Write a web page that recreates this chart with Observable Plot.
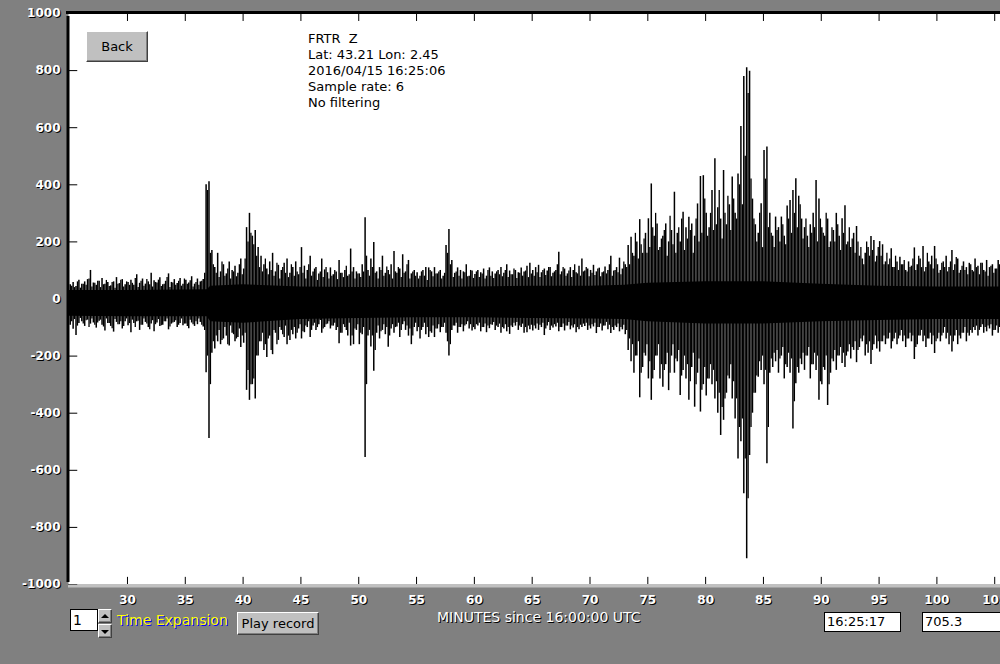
<!DOCTYPE html>
<html>
<head>
<meta charset="utf-8">
<script src="https://cdn.jsdelivr.net/npm/d3@7"></script>
<script src="https://cdn.jsdelivr.net/npm/@observablehq/plot@0.6"></script>
<style>
  html, body { margin: 0; padding: 0; background: #808080; }
  #wrap { position: relative; width: 1000px; height: 664px; overflow: hidden; font-family: "DejaVu Sans", sans-serif; }
  #wrap svg { display: block; }
  .abs { position: absolute; box-sizing: border-box; }
  .info { left: 308px; top: 31px; font-size: 13px; line-height: 16px; color: #000; white-space: pre; }
  .btn { background: #c0c0c0; border: 1px solid; border-color: #ffffff #404040 #404040 #ffffff; box-shadow: inset -1px -1px 0 #808080; color: #000; font-size: 13px; text-align: center; }
  .box { background: #fff; border: 1px solid #000; color: #000; font-size: 13px; padding-left: 2px; }
  .tri-up { width: 0; height: 0; border-left: 4px solid transparent; border-right: 4px solid transparent; border-bottom: 4px solid #000; position: absolute; left: 2px; top: 4px; }
  .tri-dn { width: 0; height: 0; border-left: 4px solid transparent; border-right: 4px solid transparent; border-top: 4px solid #000; position: absolute; left: 2px; top: 5px; }
</style>
</head>
<body>
<div id="wrap"></div>
<script>
// ---------- data ----------
const infoLines = ["FRTR  Z", "Lat: 43.21 Lon: 2.45", "2016/04/15 16:25:06", "Sample rate: 6", "No filtering"];
const xLabel = "MINUTES since 16:00:00 UTC";
const xTicks = [30, 35, 40, 45, 50, 55, 60, 65, 70, 75, 80, 85, 90, 95, 100, 105];
const yTicks = [1000, 800, 600, 400, 200, 0, -200, -400, -600, -800, -1000];
const xDomain = [24.9, 105.5];
const yDomain = [-1000, 1000];
const timeBox = "16:25:17";
const valueBox = "705.3";

// trace envelope A: max/min every 0.25 minute, starting at 25.05 min
const t0 = 25.05;
const dt = 0.25;
const traceHi = [
  50, 58, 44, 66, 52, 60, 68, 100, 56, 48,
  62, 72, 52, 58, 46, 60, 75, 54, 68, 50,
  58, 66, 48, 85, 55, 70, 52, 60, 90, 64,
  56, 74, 50, 62, 88, 58, 68, 54, 72, 52,
  66, 56, 78, 52, 70, 60, 68, 400, 411, 170,
  110, 160, 95, 120, 88, 130, 100, 115, 90, 140,
  105, 250, 300, 220, 240, 180, 150, 120, 105, 130,
  160, 95, 118, 100, 125, 140, 90, 110, 130, 85,
  180, 115, 100, 150, 95, 110, 88, 140, 102, 92,
  109, 85, 95, 135, 90, 100, 80, 175, 110, 95,
  88, 120, 285, 100, 140, 198, 95, 110, 150, 90,
  100, 120, 166, 90, 105, 155, 95, 135, 88, 100,
  92, 80, 100, 110, 109, 95, 110, 88, 100, 80,
  187, 243, 135, 90, 109, 100, 95, 120, 80, 98,
  86, 100, 92, 105, 80, 109, 95, 88, 100, 110,
  90, 120, 98, 85, 100, 92, 109, 95, 115, 125,
  100, 110, 118, 92, 105, 98, 110, 90, 100, 164,
  95, 105, 88, 110, 100, 92, 115, 140, 98, 105,
  100, 118, 95, 108, 92, 112, 100, 150, 98, 110,
  143, 105, 120, 187, 216, 150, 200, 278, 160, 230,
  281, 403, 220, 263, 180, 220, 263, 200, 240, 374,
  230, 200, 304, 250, 286, 263, 220, 333, 429, 432,
  300, 250, 380, 491, 320, 280, 450, 260, 330, 427,
  300, 438, 604, 779, 810, 798, 350, 260, 230, 334,
  520, 532, 300, 220, 287, 250, 287, 220, 326, 345,
  380, 421, 360, 280, 250, 220, 260, 300, 415, 350,
  250, 220, 280, 200, 240, 300, 220, 281, 327, 200,
  180, 230, 254, 150, 140, 160, 180, 219, 205, 150,
  201, 190, 130, 120, 176, 110, 130, 146, 120, 100,
  130, 115, 179, 120, 140, 184, 110, 130, 150, 184,
  120, 100, 130, 150, 110, 170, 120, 140, 100, 130,
  110, 125, 100, 140, 115, 125, 100, 135, 110, 120,
  105, 135
];
const traceLo = [
  -92, -106, -128, -86, -80, -96, -74, -88, -84, -102,
  -78, -92, -112, -86, -96, -116, -82, -90, -105, -80,
  -94, -118, -86, -80, -110, -92, -82, -100, -88, -115,
  -84, -96, -92, -80, -108, -88, -82, -100, -86, -94,
  -88, -104, -84, -96, -90, -82, -98, -258, -489, -190,
  -175, -150, -160, -140, -130, -165, -120, -150, -135, -170,
  -155, -320, -355, -300, -350, -200, -150, -180, -205, -130,
  -195, -120, -145, -110, -135, -160, -145, -125, -140, -105,
  -140, -118, -100, -135, -95, -110, -90, -120, -100, -88,
  -105, -95, -110, -157, -120, -100, -130, -165, -160, -110,
  -160, -125, -555, -130, -168, -253, -120, -140, -110, -125,
  -169, -105, -120, -98, -135, -90, -110, -130, -160, -100,
  -115, -140, -100, -125, -135, -120, -135, -105, -118, -100,
  -120, -200, -110, -95, -120, -100, -115, -90, -105, -112,
  -108, -95, -115, -100, -118, -104, -92, -110, -100, -120,
  -105, -115, -124, -100, -95, -110, -100, -120, -118, -108,
  -112, -105, -110, -100, -128, -95, -110, -102, -98, -115,
  -100, -112, -95, -108, -102, -118, -108, -100, -96, -110,
  -105, -98, -121, -100, -112, -95, -108, -121, -110, -100,
  -115, -108, -125, -180, -220, -260, -200, -346, -240, -200,
  -280, -355, -250, -200, -280, -309, -230, -321, -200, -260,
  -220, -338, -250, -280, -355, -240, -379, -260, -396, -300,
  -340, -280, -300, -350, -400, -478, -425, -330, -280, -350,
  -420, -560, -500, -682, -910, -548, -400, -330, -274, -250,
  -300, -577, -260, -240, -220, -260, -200, -280, -240, -260,
  -455, -297, -260, -230, -250, -200, -280, -230, -250, -355,
  -300, -250, -373, -260, -220, -250, -200, -226, -240, -186,
  -210, -180, -223, -170, -150, -200, -190, -229, -160, -175,
  -186, -150, -160, -140, -175, -140, -160, -130, -150, -170,
  -140, -150, -212, -160, -130, -150, -170, -140, -160, -191,
  -140, -150, -120, -140, -160, -186, -130, -160, -140, -120,
  -150, -130, -120, -110, -130, -100, -120, -115, -105, -130,
  -110, -120
];
// trace envelope B: max/min in the columns between those of A (starting at 25.175 min)
const t0b = 25.175;
const traceHiB = [
  45, 40, 60, 38, 52, 48, 70, 42, 55, 62,
  40, 50, 65, 44, 58, 38, 52, 66, 42, 60,
  48, 55, 72, 40, 62, 45, 68, 50, 42, 58,
  66, 44, 52, 75, 40, 56, 48, 62, 45, 70,
  52, 64, 42, 58, 48, 62, 90, 380, 160, 120,
  90, 75, 130, 80, 105, 70, 95, 78, 120, 85,
  140, 200, 230, 190, 150, 110, 95, 140, 85, 100,
  80, 125, 70, 110, 90, 75, 120, 80, 95, 110,
  90, 70, 120, 80, 105, 65, 95, 75, 110, 70,
  80, 100, 68, 90, 75, 115, 85, 95, 70, 88,
  75, 95, 150, 80, 110, 90, 70, 100, 80, 112,
  85, 70, 95, 110, 75, 90, 120, 70, 95, 80,
  70, 95, 80, 65, 100, 78, 88, 95, 70, 90,
  160, 120, 75, 95, 80, 70, 92, 78, 100, 72,
  95, 75, 88, 70, 100, 80, 72, 95, 85, 78,
  100, 75, 85, 105, 72, 90, 80, 98, 75, 88,
  80, 92, 75, 100, 82, 110, 78, 95, 120, 85,
  110, 80, 98, 75, 120, 88, 80, 95, 110, 78,
  90, 82, 105, 78, 95, 88, 120, 80, 100, 92,
  85, 130, 110, 120, 160, 230, 140, 190, 210, 160,
  180, 250, 300, 170, 210, 240, 150, 290, 190, 160,
  250, 280, 170, 210, 240, 160, 280, 200, 230, 350,
  220, 300, 240, 260, 380, 210, 300, 360, 240, 350,
  280, 400, 330, 500, 720, 420, 280, 200, 300, 180,
  420, 250, 230, 180, 240, 200, 260, 190, 280, 230,
  300, 250, 330, 210, 280, 180, 230, 250, 200, 280,
  230, 300, 180, 250, 200, 260, 170, 230, 190, 250,
  210, 160, 200, 180, 120, 200, 150, 170, 130, 180,
  150, 120, 160, 140, 110, 150, 100, 120, 135, 95,
  110, 140, 100, 150, 110, 95, 160, 120, 105, 140,
  90, 125, 110, 95, 130, 100, 145, 90, 115, 100,
  85, 120, 95, 110, 85, 125, 95, 80, 115, 90,
  105, 120
];
const traceLoB = [
  -80, -72, -95, -68, -88, -76, -100, -70, -92, -84,
  -74, -98, -70, -86, -104, -72, -90, -80, -96, -70,
  -86, -74, -100, -78, -92, -70, -88, -108, -76, -90,
  -72, -94, -80, -70, -98, -84, -76, -92, -70, -88,
  -96, -74, -90, -80, -70, -92, -110, -200, -300, -150,
  -130, -110, -145, -100, -160, -95, -125, -140, -105, -130,
  -120, -250, -300, -280, -200, -150, -120, -160, -140, -180,
  -110, -160, -100, -125, -95, -130, -110, -100, -120, -90,
  -115, -95, -80, -110, -85, -100, -75, -105, -90, -80,
  -95, -85, -100, -120, -90, -110, -85, -130, -105, -90,
  -120, -100, -300, -110, -130, -180, -95, -115, -90, -100,
  -130, -90, -100, -85, -110, -80, -95, -105, -130, -85,
  -100, -110, -85, -100, -115, -95, -105, -90, -100, -85,
  -150, -160, -95, -85, -100, -90, -95, -80, -90, -100,
  -90, -85, -100, -88, -95, -90, -82, -95, -88, -100,
  -90, -100, -95, -85, -82, -95, -88, -100, -95, -92,
  -95, -88, -92, -85, -105, -82, -95, -90, -85, -100,
  -88, -95, -82, -95, -90, -100, -92, -88, -85, -95,
  -90, -85, -100, -88, -95, -82, -92, -100, -95, -88,
  -100, -92, -110, -140, -160, -200, -150, -260, -190, -160,
  -220, -280, -200, -160, -230, -250, -190, -260, -160, -210,
  -180, -270, -200, -230, -290, -190, -300, -210, -320, -240,
  -280, -230, -250, -290, -330, -380, -350, -270, -230, -290,
  -350, -450, -420, -560, -700, -450, -330, -270, -220, -200,
  -250, -450, -210, -190, -180, -210, -170, -230, -190, -210,
  -360, -240, -210, -190, -200, -170, -230, -190, -200, -290,
  -240, -200, -300, -210, -180, -200, -170, -190, -200, -160,
  -170, -150, -180, -140, -130, -160, -150, -180, -130, -150,
  -150, -130, -140, -120, -150, -120, -140, -110, -130, -140,
  -120, -130, -170, -130, -110, -130, -140, -120, -130, -150,
  -120, -130, -100, -120, -130, -150, -110, -130, -120, -100,
  -120, -110, -100, -95, -110, -90, -100, -95, -90, -110,
  -95, -100
];
// solid core of the trace
const coreT  = [24.9, 30, 36.9, 37.2, 40, 45, 50, 55, 60, 65, 70, 73, 75, 80, 85, 90, 95, 100, 105.5];
const coreHi = [30, 30, 32, 45, 50, 42, 40, 40, 42, 45, 45, 48, 55, 60, 60, 52, 45, 42, 42];
const coreLo = [-60, -62, -62, -80, -85, -72, -68, -66, -66, -68, -70, -72, -80, -88, -88, -80, -75, -72, -72];

// ---------- build ----------
const binsA = traceHi.map((h, i) => ({t: t0 + i * dt, hi: h, lo: traceLo[i]}));
const binsB = traceHiB.map((h, i) => ({t: t0b + i * dt, hi: h, lo: traceLoB[i]}));
const core = coreT.map((t, i) => ({t, hi: coreHi[i], lo: coreLo[i]}));
const font = "DejaVu Sans";

const plot = Plot.plot({
  width: 1000,
  height: 664,
  marginLeft: 68,
  marginRight: 0,
  marginTop: 13,
  marginBottom: 80,
  x: {domain: xDomain, axis: null},
  y: {domain: yDomain, axis: null},
  style: {background: "#808080", overflow: "hidden"},
  marks: [
    Plot.frame({fill: "white", stroke: null}),
    Plot.areaY(core, {x: "t", y1: "lo", y2: "hi", fill: "black"}),
    Plot.ruleX(binsB, {x: "t", y1: "lo", y2: "hi", stroke: "black", strokeWidth: 1.3}),
    Plot.ruleX(binsA, {x: "t", y1: "lo", y2: "hi", stroke: "black", strokeWidth: 1.5}),
    // inside ticks
    Plot.ruleY(yTicks, {y: d => d, x1: xDomain[0], x2: xDomain[0] + 0.8, stroke: "black"}),
    Plot.ruleX(xTicks, {x: d => d, y1: yDomain[1], y2: yDomain[1] - 28, stroke: "black"}),
    Plot.ruleX(xTicks, {x: d => d, y1: yDomain[0], y2: yDomain[0] + 25, stroke: "black"}),
    // borders
    Plot.ruleY([yDomain[0]], {stroke: "#c0c0c0", strokeWidth: 3, dy: 1.5}),
    Plot.ruleY([yDomain[1]], {stroke: "black", strokeWidth: 3, dy: -1, insetLeft: -2}),
    Plot.ruleX([xDomain[0]], {y1: yDomain[0], y2: yDomain[1], stroke: "black", strokeWidth: 3, dx: -0.5, insetTop: -2, insetBottom: -3}),
    // y labels (shadow + text)
    Plot.text(yTicks, {x: xDomain[0], y: d => d, text: d => String(d), textAnchor: "end", dx: -7, dy: 1, fill: "black",
      fontFamily: font, fontWeight: "bold", fontSize: 12}),
    Plot.text(yTicks, {x: xDomain[0], y: d => d, text: d => String(d), textAnchor: "end", dx: -8, fill: "white",
      fontFamily: font, fontWeight: "bold", fontSize: 12}),
    // x labels
    Plot.text(xTicks, {x: d => d, y: yDomain[0], text: d => String(d), dy: 17, dx: 1, fill: "black",
      fontFamily: font, fontWeight: "bold", fontSize: 12}),
    Plot.text(xTicks, {x: d => d, y: yDomain[0], text: d => String(d), dy: 16, fill: "white",
      fontFamily: font, fontWeight: "bold", fontSize: 12})
  ]
});

const wrap = document.getElementById("wrap");
wrap.appendChild(plot);

function el(cls, css, html) {
  const d = document.createElement("div");
  d.className = "abs " + cls;
  d.style.cssText = css;
  if (html != null) d.innerHTML = html;
  wrap.appendChild(d);
  return d;
}
function esc(s) { return s.replace(/&/g, "&amp;").replace(/</g, "&lt;"); }

// info block
el("info", "", infoLines.map(esc).join("\n"));
// Back button
el("btn", "left:86px;top:31px;width:62px;height:31px;line-height:29px;", "Back");
// axis title
el("", "left:437px;top:608px;font-size:14px;line-height:18px;color:#fff;text-shadow:1px 1px 0 #000;white-space:nowrap;", esc(xLabel));
// time expansion input + spinner
el("box", "left:70px;top:609px;width:28px;height:22px;font-size:14px;line-height:20px;", "1");
const up = el("btn", "left:98px;top:609px;width:14px;height:14px;", "");
up.innerHTML = '<div class="tri-up"></div>';
const dn = el("btn", "left:98px;top:624px;width:14px;height:14px;", "");
dn.innerHTML = '<div class="tri-dn"></div>';
el("", "left:117px;top:611px;font-size:14px;line-height:18px;color:#ffff00;text-shadow:1px 1px 0 #0000ff;white-space:nowrap;", "Time Expansion");
el("btn", "left:237px;top:612px;width:82px;height:23px;line-height:21px;", "Play record");
// right boxes
el("box", "left:824px;top:612px;width:77px;height:20px;line-height:18px;", timeBox);
el("box", "left:922px;top:612px;width:90px;height:20px;line-height:18px;", valueBox);
</script>
</body>
</html>
